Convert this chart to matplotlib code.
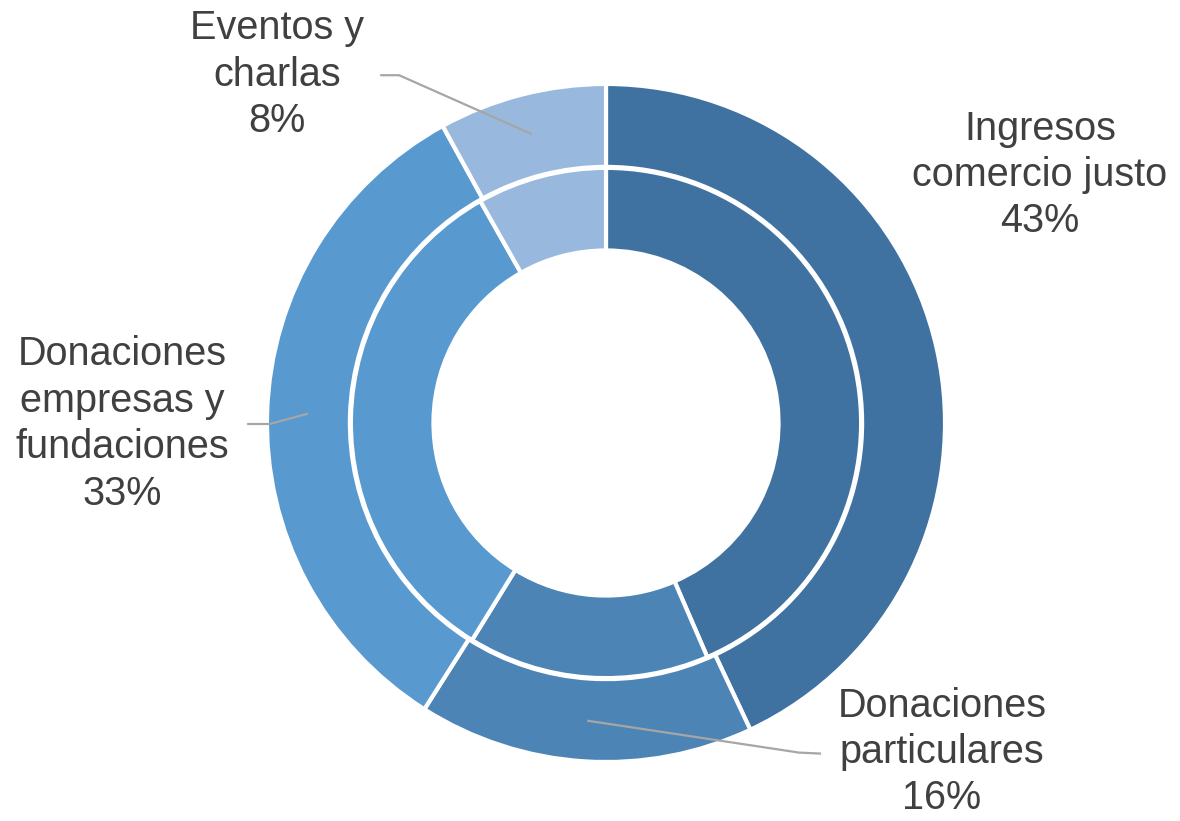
import numpy as np
import matplotlib
matplotlib.use("Agg")
import matplotlib.pyplot as plt

plt.rcParams['font.family'] = ['Liberation Sans', 'DejaVu Sans']

# --- data ---
labels = ["Ingresos\ncomercio justo", "Donaciones\nparticulares",
          "Donaciones\nempresas y\nfundaciones", "Eventos y\ncharlas"]
outer_pct = [43, 16, 33, 8]
inner_pct = [43.5, 15.3, 33.0, 8.2]
colors = ["#3F72A0", "#4C84B6", "#5899D0", "#98B9DD"]

# label placement (data units, radius 1 = outer ring) and leader elbows
label_pos = [(1.288, 0.736), (0.997, -0.976), (-1.436, -0.003), (-0.976, 1.033)]
leader_mid = [None, (0.573, -0.978), (-0.998, -0.003), (-0.614, 1.032)]
leader_end = [None, (0.638, -0.981), (-1.065, -0.003), (-0.67, 1.032)]

fig = plt.figure(figsize=(11.8, 8.21), dpi=100)
ax = fig.add_axes([0, 0, 1, 1])

wp = dict(edgecolor="white", linewidth=3)
ax.pie(outer_pct, radius=1.006, colors=colors, startangle=90, counterclock=False,
       wedgeprops=dict(width=0.246, **wp))
ax.pie(inner_pct, radius=0.757, colors=colors, startangle=90, counterclock=False,
       wedgeprops=dict(width=0.245, **wp))

# leader lines from the middle of each outer wedge + labels
tot = sum(outer_pct)
start = 90.0
for i, v in enumerate(outer_pct):
    span = 360.0 * v / tot
    mid = np.deg2rad(start - span / 2)
    start -= span
    ax.text(label_pos[i][0], label_pos[i][1], "%s\n%d%%" % (labels[i], v),
            ha="center", va="center", fontsize=28.5, color="#404040", linespacing=1.28)
    if leader_mid[i] is None:
        continue
    r = 0.885
    xs = [r * np.cos(mid), leader_mid[i][0], leader_end[i][0]]
    ys = [r * np.sin(mid), leader_mid[i][1], leader_end[i][1]]
    ax.plot(xs, ys, color="#A6A6A6", lw=1.6, solid_capstyle="butt", zorder=5)

ax.set_xlim(-606 / 337, (1180 - 606) / 337)
ax.set_ylim((423 - 821) / 337, 423 / 337)
ax.set_aspect("equal")
ax.axis("off")
fig.savefig("out.png", dpi=100)
